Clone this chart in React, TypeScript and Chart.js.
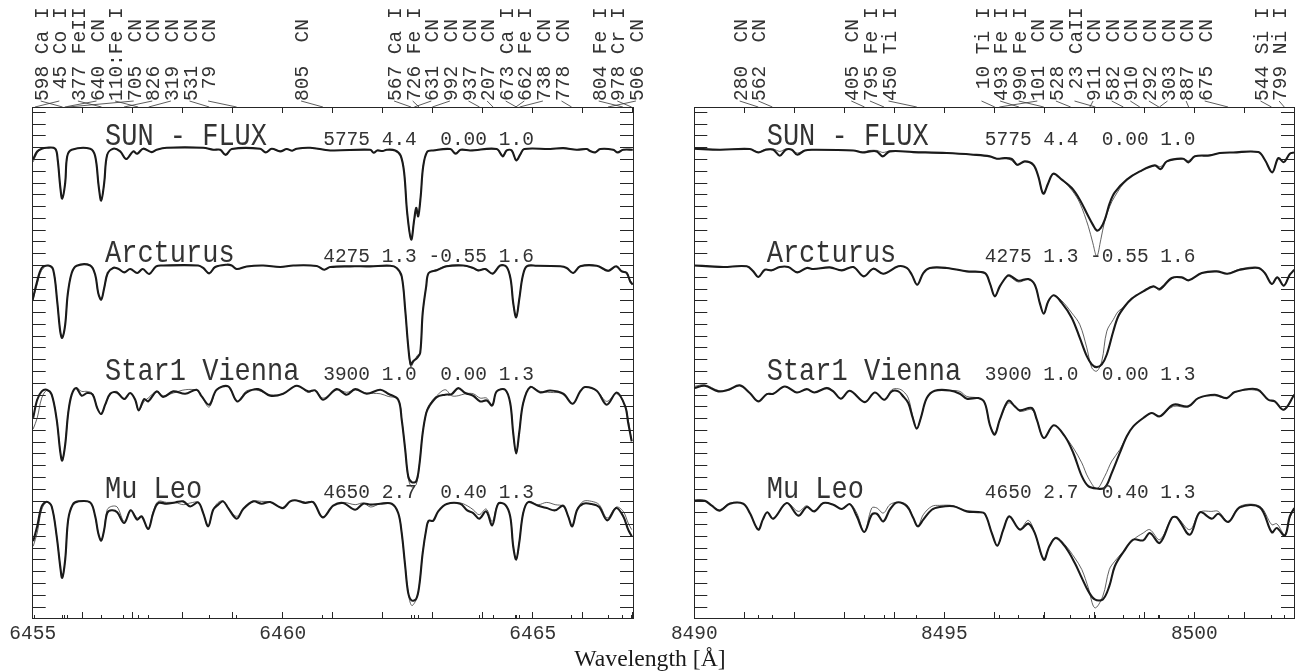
import React, { useEffect, useRef } from "react";
import { Chart, registerables } from "chart.js";

Chart.register(...registerables);

const INK = "#333333";
const MONO = '"Liberation Mono"';

// ---- Left panel (6455-6467 A), normalised flux ----
const sunLeftWave = [6455.01,6455.09,6455.18,6455.28,6455.45,6455.50,6455.55,6455.59,6455.65,6455.69,6455.78,6456.15,6456.25,6456.32,6456.37,6456.43,6456.49,6456.61,6456.75,6456.87,6457.01,6457.09,6457.21,6457.38,6457.48,6457.68,6458.41,6458.61,6458.75,6458.86,6458.98,6459.55,6459.66,6459.78,6459.95,6460.08,6460.19,6460.28,6460.55,6460.95,6461.75,6461.82,6461.89,6462.0,6462.08,6462.25,6462.36,6462.43,6462.49,6462.57,6462.63,6462.67,6462.71,6462.76,6462.81,6462.89,6463.01,6463.35,6463.46,6463.56,6463.75,6464.28,6464.40,6464.48,6464.58,6464.67,6464.75,6464.83,6465.35,6465.61,6465.88,6466.08,6466.15,6466.25,6466.35,6466.61,6466.70,6466.81,6467.0];
const sunLeftObs = [.904,.969,.992,1.0,.992,.898,.672,.568,.701,.927,.983,.992,.927,.672,.551,.701,.941,.992,.969,.904,.969,.949,.992,.963,.983,1.0,1.0,.983,.983,.938,.989,.992,.960,.992,.969,.989,.975,.992,1.0,.977,.983,.958,.977,.972,.983,.977,.932,.785,.446,.220,.390,.489,.418,.588,.842,.966,.977,.989,.949,.983,.977,.989,.927,.977,.977,.893,.941,.989,.989,.997,.983,.989,.972,.960,.989,.983,.960,.983,.983];
const sunLeftModel = [.880,.955,.992,1.0,.992,.898,.672,.568,.701,.927,.983,.992,.927,.672,.551,.701,.941,.992,.969,.904,.969,.949,.992,.963,.983,1.0,1.0,.983,.983,.948,.989,.992,.965,.992,.969,.989,.975,.992,1.0,.977,.983,.958,.977,.972,.983,.977,.932,.785,.446,.220,.380,.445,.430,.588,.842,.966,.977,.989,.955,.983,.977,.989,.937,.977,.977,.893,.941,.989,.989,.997,.983,.989,.972,.965,.989,.983,.965,.983,.983];

const arcLeftWave = [6455.0,6455.08,6455.18,6455.31,6455.41,6455.49,6455.55,6455.59,6455.65,6455.70,6455.78,6455.88,6456.15,6456.25,6456.31,6456.37,6456.43,6456.50,6456.61,6456.71,6456.83,6456.95,6457.09,6457.20,6457.33,6457.47,6457.61,6458.31,6458.41,6458.53,6458.65,6458.88,6458.98,6459.08,6459.28,6459.61,6459.95,6460.21,6460.68,6460.83,6460.95,6461.35,6461.75,6462.15,6462.28,6462.38,6462.45,6462.51,6462.56,6462.61,6462.69,6462.75,6462.80,6462.87,6462.92,6463.08,6463.28,6463.61,6463.81,6463.91,6464.05,6464.20,6464.35,6464.48,6464.56,6464.61,6464.67,6464.73,6464.80,6464.88,6465.08,6465.55,6465.68,6465.81,6465.95,6466.28,6466.51,6466.67,6466.78,6466.88,6466.95,6467.0];
const arcLeftObs = [.71,.851,.979,1.0,.964,.696,.442,.385,.498,.753,.936,.998,1.0,.922,.767,.710,.809,.936,.979,.973,.942,.970,.936,.970,.928,.993,1.0,1.0,.979,.933,.987,1.007,1.0,.970,.992,1.0,.987,1.0,.996,.964,.987,.993,.993,.998,.979,.908,.625,.315,.159,.188,.216,.258,.597,.823,.936,.959,.993,1.0,.979,.959,.970,.931,1.0,.987,.880,.682,.560,.710,.908,.993,.998,.993,.979,.936,.993,.998,.956,.993,.950,.936,.865,.837];
const arcLeftModel = [.70,.825,.960,1.0,.964,.696,.442,.385,.498,.753,.936,.998,1.0,.922,.767,.710,.809,.925,.985,.973,.942,.970,.936,.970,.928,.993,1.0,1.0,.979,.933,.987,1.007,1.0,.970,.992,1.0,.987,1.0,.996,.964,.987,.993,.993,.998,.979,.908,.625,.315,.139,.173,.235,.258,.597,.823,.936,.965,.998,1.0,.975,.955,.975,.931,1.0,.987,.880,.682,.560,.710,.908,.993,.998,.993,.979,.936,.993,.998,.950,.993,.955,.941,.875,.845];

const starLeftWave = [6455.01,6455.09,6455.18,6455.28,6455.38,6455.48,6455.55,6455.59,6455.65,6455.71,6455.78,6455.87,6455.98,6456.09,6456.20,6456.29,6456.37,6456.45,6456.55,6456.68,6456.83,6456.95,6457.05,6457.12,6457.23,6457.31,6457.48,6457.61,6457.81,6458.05,6458.28,6458.38,6458.53,6458.68,6458.91,6459.09,6459.28,6459.51,6459.75,6460.01,6460.28,6460.51,6460.65,6460.81,6461.08,6461.28,6461.45,6461.68,6461.95,6462.11,6462.31,6462.38,6462.45,6462.51,6462.58,6462.67,6462.73,6462.80,6462.87,6462.93,6463.08,6463.25,6463.38,6463.51,6463.65,6463.81,6463.95,6464.08,6464.19,6464.28,6464.45,6464.55,6464.61,6464.67,6464.73,6464.81,6464.95,6465.15,6465.35,6465.61,6465.80,6465.95,6466.05,6466.28,6466.48,6466.68,6466.85,6466.91,6466.98];
const starLeftObs = [.756,.910,.981,.995,.953,.741,.472,.393,.529,.797,.953,1.009,.944,.967,.953,.840,.789,.868,.961,.972,.916,.967,.910,.820,.916,.896,.981,.933,.981,.961,.995,.938,.868,.995,1.023,.896,.972,1.0,.944,.961,1.029,.981,.989,.910,1.0,.953,1.0,.961,.995,.961,.910,.741,.487,.261,.210,.218,.345,.628,.797,.854,.933,.953,.958,1.009,.967,.944,.896,.904,.862,.981,.995,.882,.628,.453,.628,.882,1.018,.972,.989,.961,.876,.981,1.018,.986,.868,.972,.854,.713,.557];
const starLeftModel = [.662,.755,.924,.989,.953,.741,.472,.393,.529,.797,.953,1.009,.981,.981,.961,.840,.789,.868,.953,.981,.916,.967,.910,.820,.896,.924,.981,.944,.967,.995,.989,.938,.848,.995,1.023,.896,.986,.989,.953,.961,1.029,.972,.989,.924,.995,.973,.995,.967,.961,.938,.916,.741,.487,.247,.168,.190,.345,.628,.797,.868,.944,.995,.944,.944,.961,.961,.924,.924,.862,.981,.995,.882,.628,.453,.628,.882,1.018,.981,.972,.961,.876,.981,1.018,.986,.896,.961,.854,.741,.557];

const muLeftWave = [6455.01,6455.09,6455.18,6455.28,6455.38,6455.48,6455.55,6455.59,6455.65,6455.71,6455.80,6455.91,6456.15,6456.25,6456.31,6456.37,6456.43,6456.49,6456.58,6456.69,6456.83,6456.96,6457.09,6457.18,6457.31,6457.41,6457.51,6457.68,6457.85,6458.01,6458.15,6458.31,6458.41,6458.51,6458.61,6458.71,6458.81,6458.91,6459.08,6459.21,6459.41,6459.58,6459.75,6460.0,6460.15,6460.28,6460.45,6460.61,6460.80,6461.01,6461.21,6461.45,6461.61,6461.76,6461.95,6462.18,6462.31,6462.38,6462.45,6462.51,6462.58,6462.67,6462.73,6462.80,6462.87,6462.92,6463.01,6463.11,6463.28,6463.55,6463.69,6463.81,6463.93,6464.07,6464.19,6464.31,6464.45,6464.55,6464.61,6464.67,6464.73,6464.81,6464.91,6465.11,6465.28,6465.45,6465.61,6465.71,6465.79,6465.89,6466.01,6466.18,6466.33,6466.49,6466.67,6466.81,6466.91,6466.98];
const muLeftObs = [.658,.785,.954,.994,.954,.700,.446,.347,.502,.842,.969,.997,.988,.870,.729,.664,.757,.898,.921,.904,.813,.921,.842,.870,.762,.898,.983,.977,.988,.997,.954,.988,.898,.785,.926,.969,.997,.940,.850,.932,.997,.977,.991,.940,.997,1.005,.983,.991,.861,.960,.983,.926,.977,.969,.977,.977,.898,.729,.446,.220,.155,.169,.277,.559,.757,.833,.833,.912,.974,.977,.921,.898,.850,.912,.794,.977,.969,.870,.616,.503,.644,.898,.991,.960,.940,.921,.960,.870,.785,.926,.977,.974,.949,.836,.940,.870,.757,.700];
const muLeftModel = [.616,.729,.926,.991,.954,.700,.446,.347,.502,.842,.969,.997,.988,.870,.729,.664,.757,.926,.955,.949,.827,.921,.856,.870,.762,.912,.997,.988,.988,.969,.983,.988,.898,.785,.926,.988,1.0,.940,.870,.932,.997,.997,.991,.940,.997,1.005,.991,.991,.861,.960,.988,.969,.983,.949,.977,.977,.898,.729,.446,.220,.113,.163,.277,.559,.757,.833,.833,.912,.974,.983,.960,.926,.884,.932,.827,.977,.969,.870,.616,.503,.644,.898,.991,.969,.988,.969,.955,.870,.785,.926,.997,.997,.969,.856,.949,.912,.813,.757];

// ---- Right panel (8490-8502 A), normalised flux ----
const sunRightWave = [8490.0,8490.51,8491.11,8491.28,8491.43,8491.58,8491.71,8491.83,8491.95,8492.06,8492.21,8492.38,8493.18,8493.37,8493.51,8493.65,8493.77,8493.91,8494.38,8495.05,8495.58,8495.91,8496.05,8496.21,8496.35,8496.46,8496.61,8496.78,8496.88,8496.98,8497.08,8497.18,8497.35,8497.55,8497.71,8497.88,8497.97,8498.05,8498.13,8498.21,8498.31,8498.41,8498.65,8498.91,8499.21,8499.33,8499.45,8499.78,8499.88,8500.01,8500.31,8500.51,8500.78,8501.28,8501.41,8501.56,8501.68,8501.79,8501.91,8502.0];
const sunRightObs = [.992,.983,.989,.960,.983,.983,.932,.983,.983,.941,.977,.983,.977,.960,.969,.969,.927,.969,.963,.955,.941,.927,.907,.912,.904,.856,.884,.856,.757,.610,.701,.780,.729,.658,.559,.418,.347,.297,.319,.390,.531,.621,.729,.799,.850,.819,.884,.907,.876,.927,.935,.955,.960,.963,.898,.791,.912,.878,.949,.960];
const sunRightModel = [.992,.983,.989,.965,.989,.989,.969,.989,.983,.955,.977,.983,.977,.965,.977,.977,.960,.972,.963,.955,.941,.927,.907,.912,.890,.850,.884,.850,.757,.610,.701,.780,.729,.640,.531,.333,.192,.079,.220,.380,.503,.587,.729,.799,.850,.840,.884,.907,.890,.927,.935,.955,.960,.963,.898,.791,.912,.878,.949,.960];

const arcRightWave = [8490.0,8490.31,8490.58,8491.05,8491.18,8491.28,8491.41,8491.55,8491.71,8491.88,8492.06,8492.25,8492.38,8492.71,8492.95,8493.18,8493.39,8493.58,8493.78,8494.08,8494.25,8494.35,8494.46,8494.58,8494.71,8495.05,8495.45,8495.81,8495.91,8496.01,8496.11,8496.25,8496.31,8496.48,8496.68,8496.81,8496.91,8496.99,8497.08,8497.19,8497.35,8497.55,8497.71,8497.85,8497.95,8498.05,8498.15,8498.25,8498.38,8498.48,8498.61,8498.75,8498.98,8499.18,8499.31,8499.55,8499.75,8499.89,8500.15,8500.45,8500.66,8500.91,8501.28,8501.41,8501.55,8501.66,8501.79,8501.91,8502.0];
const arcRightObs = [1.0,.993,.987,.993,.950,.902,.964,.959,.987,.987,.942,.979,.970,.984,.959,.987,.908,.973,.930,.993,.979,.922,.837,.936,.979,.979,.950,.936,.851,.738,.823,.908,.916,.871,.885,.837,.681,.591,.696,.747,.682,.555,.385,.230,.160,.137,.160,.244,.442,.569,.654,.719,.781,.823,.801,.894,.899,.874,.936,.950,.930,.964,.979,.936,.843,.899,.829,.922,.964];
const arcRightModel = [1.0,.993,.987,.993,.950,.902,.964,.959,.987,.987,.942,.979,.970,.984,.959,.987,.908,.973,.930,.993,.979,.922,.837,.936,.979,.979,.950,.936,.851,.738,.823,.908,.905,.860,.880,.837,.681,.591,.696,.747,.700,.597,.498,.301,.131,.103,.188,.442,.541,.611,.654,.719,.781,.823,.790,.890,.899,.874,.936,.950,.930,.970,.985,.936,.843,.899,.829,.922,.964];

const starRightWave = [8490.0,8490.21,8490.48,8490.68,8490.91,8491.11,8491.28,8491.45,8491.58,8491.81,8492.05,8492.25,8492.40,8492.65,8492.78,8492.93,8493.11,8493.41,8493.61,8493.80,8493.95,8494.08,8494.18,8494.28,8494.37,8494.45,8494.53,8494.65,8494.81,8495.11,8495.31,8495.45,8495.68,8495.81,8495.91,8496.01,8496.11,8496.28,8496.41,8496.51,8496.75,8496.85,8496.99,8497.19,8497.41,8497.58,8497.75,8497.88,8498.05,8498.21,8498.35,8498.51,8498.65,8498.78,8498.98,8499.15,8499.31,8499.58,8499.88,8500.08,8500.41,8500.65,8500.81,8501.25,8501.48,8501.61,8501.79,8502.0];
const starRightObs = [1.009,1.029,.981,.995,1.032,.967,.896,.958,.961,1.023,.972,1.0,.972,1.009,.981,.919,.986,.890,.972,.910,.981,.981,.938,.882,.755,.665,.755,.924,.986,.989,.961,.919,.924,.882,.698,.614,.741,.902,.854,.820,.840,.741,.585,.693,.600,.458,.261,.176,.156,.162,.289,.458,.600,.684,.755,.797,.769,.868,.854,.924,.953,.924,.975,1.0,.910,.896,.825,.953];
const starRightModel = [1.023,1.037,.989,.989,1.032,.967,.896,.958,.961,1.023,.972,1.0,.972,1.015,.981,.919,.986,.890,.972,.910,.995,1.003,.981,.924,.769,.665,.755,.924,.986,.989,.981,.938,.924,.882,.698,.628,.741,.882,.854,.811,.825,.741,.585,.693,.600,.501,.374,.247,.156,.261,.389,.486,.600,.684,.755,.797,.769,.854,.848,.924,.944,.924,.975,.989,.910,.896,.825,.953];

const muRightWave = [8490.0,8490.21,8490.35,8490.51,8490.71,8490.98,8491.11,8491.28,8491.37,8491.46,8491.58,8491.85,8492.08,8492.25,8492.40,8492.58,8492.78,8492.95,8493.11,8493.25,8493.40,8493.55,8493.65,8493.78,8493.91,8494.05,8494.25,8494.38,8494.47,8494.58,8494.75,8494.91,8495.18,8495.45,8495.68,8495.81,8495.95,8496.06,8496.18,8496.30,8496.51,8496.68,8496.81,8496.99,8497.10,8497.23,8497.41,8497.61,8497.75,8497.88,8498.01,8498.17,8498.30,8498.41,8498.58,8498.78,8498.98,8499.11,8499.31,8499.55,8499.65,8499.91,8500.11,8500.35,8500.48,8500.68,8500.91,8501.31,8501.55,8501.65,8501.81,8501.91,8502.0];
const muRightObs = [1.005,1.003,.960,.918,.977,.977,.898,.757,.842,.904,.850,.983,.876,.949,.912,.983,.969,.932,.974,.870,.737,.884,.892,.827,.926,.988,.955,.856,.785,.842,.926,.949,.955,.912,.906,.892,.728,.621,.757,.870,.757,.808,.728,.502,.614,.686,.616,.474,.347,.235,.164,.164,.277,.446,.565,.672,.666,.728,.644,.856,.861,.714,.904,.850,.892,.822,.946,.946,.734,.771,.706,.870,.940];
const muRightModel = [.997,1.003,.960,.926,.983,.977,.898,.757,.842,.904,.850,.983,.912,.960,.912,.983,.969,.932,.974,.898,.737,.941,.941,.898,.969,.988,.969,.856,.785,.884,.955,.963,.960,.912,.906,.892,.728,.621,.757,.870,.762,.836,.728,.502,.614,.692,.630,.516,.418,.263,.093,.192,.418,.489,.573,.672,.729,.757,.672,.856,.864,.757,.904,.912,.912,.827,.955,.955,.799,.807,.714,.856,.940];

// ---- Spectrum stacking and annotations ----
const stackOffsets = [2.9, 1.9, 0.85, -0.1];
const starNames = ["SUN - FLUX", "Arcturus", "Star1 Vienna", "Mu Leo"];
const starParams = ["5775 4.4  0.00 1.0", "4275 1.3 -0.55 1.6", "3900 1.0  0.00 1.3", "4650 2.7  0.40 1.3"];
const nameLevels = [3.92, 2.928, 1.924, 0.928];

const leftLineWaves = [6455.598,6455.045,6456.377,6455.640,6457.110,6455.705,6456.826,6457.319,6458.531,6459.079,6460.805,6462.567,6462.726,6462.631,6462.992,6463.937,6464.207,6464.673,6464.662,6464.738,6465.778,6466.804,6466.978,6466.506];
const leftLineLabels = ["598 Ca I"," 45 Co I","377 FeII","640  CN ","110:Fe I","705  CN ","826  CN ","319  CN ","531  CN "," 79  CN ","805  CN ","567 Ca I","726 Fe I","631  CN ","992  CN ","937  CN ","207  CN ","673 Ca I","662 Fe I","738  CN ","778  CN ","804 Fe I","978 Cr I","506  CN "];
const leftLineSlots = [0,1,2,3,4,5,6,7,8,9,14,19,20,21,22,23,24,25,26,27,28,30,31,32];

const rightLineWaves = [8491.280,8491.562,8493.405,8493.795,8494.450,8496.010,8496.493,8496.990,8496.101,8497.528,8498.023,8497.911,8498.582,8498.910,8499.292,8499.303,8499.887,8500.675,8501.544,8501.799];
const rightLineLabels = ["280  CN ","562  CN ","405  CN ","795 Fe I","450 Ti I"," 10 Ti I","493 Fe I","990 Fe I","101  CN ","528  CN "," 23 CaII","911  CN ","582  CN ","910  CN ","292  CN ","303  CN ","887  CN ","675  CN ","544 Si I","799 Ni I"];
const rightLineSlots = [0,1,6,7,8,13,14,15,16,17,18,19,20,21,22,23,24,25,28,29];

const fluxTicks = Array.from({ length: 43 }, (_, i) => i / 10);
const fluxMin = -0.0934;
const fluxMax = 4.246;

const leftPanel = {
  left: 0, width: 660,
  pad: { left: 32.7, right: 27, top: 107, bottom: 8 },
  xMin: 6455, xMax: 6467.006,
  waves: [sunLeftWave, arcLeftWave, starLeftWave, muLeftWave],
  obs: [sunLeftObs, arcLeftObs, starLeftObs, muLeftObs],
  model: [sunLeftModel, arcLeftModel, starLeftModel, muLeftModel],
  lineWaves: leftLineWaves, lineLabels: leftLineLabels, lineSlots: leftLineSlots,
  nameWave: 6456.446, paramWave: 6460.81,
  slotStart: 47.7,
};
const rightPanel = {
  left: 664, width: 631,
  pad: { left: 30.3, right: 1, top: 107, bottom: 8 },
  xMin: 8490, xMax: 8501.994,
  waves: [sunRightWave, arcRightWave, starRightWave, muRightWave],
  obs: [sunRightObs, arcRightObs, starRightObs, muRightObs],
  model: [sunRightModel, arcRightModel, starRightModel, muRightModel],
  lineWaves: rightLineWaves, lineLabels: rightLineLabels, lineSlots: rightLineSlots,
  nameWave: 8491.448, paramWave: 8495.81,
  slotStart: 746.7 - 664,
};

function setTicks(values: number[]) {
  return (scale: any) => { scale.ticks = values.map((value) => ({ value })); };
}
function fixHeight(h: number) {
  return (scale: any) => {
    scale.height = h;
    scale.paddingLeft = 0;
    scale.paddingRight = 0;
    scale.paddingTop = 0;
    scale.paddingBottom = 0;
  };
}
function fixWidth(scale: any) {
  scale.width = 0;
  scale.paddingLeft = 0;
  scale.paddingRight = 0;
  scale.paddingTop = 0;
  scale.paddingBottom = 0;
}
function range(a: number, b: number) {
  const out: number[] = [];
  for (let v = a; v <= b; v++) out.push(v);
  return out;
}

function tallText(ctx: any, text: string, x: number, y: number, size: number, sy: number, rotate = false) {
  ctx.save();
  ctx.translate(x, y);
  if (rotate) ctx.rotate(-Math.PI / 2);
  ctx.scale(1, sy);
  ctx.font = `${size}px ${MONO}`;
  ctx.fillStyle = INK;
  ctx.textAlign = "left";
  ctx.textBaseline = "alphabetic";
  ctx.fillText(text, 0, 0);
  ctx.restore();
}

function makeChart(canvas: HTMLCanvasElement, p: typeof leftPanel) {
  const datasets: any[] = [];
  p.waves.forEach((w, i) => {
    datasets.push({
      data: w.map((x, k) => ({ x, y: p.obs[i][k] + stackOffsets[i] })),
      borderColor: "#1a1a1a", borderWidth: 2.1, order: 0, borderJoinStyle: "round",
      pointRadius: 0, fill: false, tension: 0.35,
    });
    datasets.push({
      data: w.map((x, k) => ({ x, y: p.model[i][k] + stackOffsets[i] })),
      borderColor: "#3a3a3a", borderWidth: 0.8, order: 1, borderJoinStyle: "round",
      pointRadius: 0, fill: false, tension: 0.35,
    });
  });

  const annotate = {
    id: "annotate",
    afterDraw(chart: any) {
      const { ctx, scales } = chart;
      const xs = scales.x;
      const top = chart.chartArea.top;
      p.lineLabels.forEach((label, i) => {
        const base = p.slotStart + p.lineSlots[i] * 18.6;
        tallText(ctx, label, base, 101, 19.5, 1.08, true);
        ctx.save();
        ctx.strokeStyle = INK;
        ctx.lineWidth = 0.8;
        ctx.beginPath();
        ctx.moveTo(base - 7, 101);
        ctx.lineTo(xs.getPixelForValue(p.lineWaves[i]), top);
        ctx.stroke();
        ctx.restore();
      });
      starNames.forEach((name, i) => {
        const y = scales.y.getPixelForValue(nameLevels[i]);
        tallText(ctx, name, xs.getPixelForValue(p.nameWave), y, 27, 1.16);
        tallText(ctx, starParams[i], xs.getPixelForValue(p.paramWave), y, 19.5, 1.08);
      });
    },
  };

  const baseGrid = { drawOnChartArea: false, drawTicks: true, color: "#262626", lineWidth: 1 };
  const border = { display: true, color: "#262626", width: 1 };

  return new Chart(canvas, {
    type: "line",
    data: { datasets },
    plugins: [annotate],
    options: {
      animation: false,
      responsive: false,
      devicePixelRatio: 1,
      layout: { padding: p.pad },
      plugins: { legend: { display: false }, tooltip: { enabled: false }, title: { display: false } },
      scales: {
        x: {
          type: "linear", position: "bottom", weight: 1, min: p.xMin, max: p.xMax,
          afterBuildTicks: setTicks(range(p.xMin, Math.floor(p.xMax))),
          afterFit: fixHeight(45),
          grid: { ...baseGrid, tickLength: -6 }, border,
          ticks: {
            autoSkip: false, maxRotation: 0, padding: 10, color: INK,
            font: { family: "Liberation Mono", size: 19.5 },
            callback: (v: any) => (Number(v) % 5 === 0 ? String(v) : ""),
          },
        },
        xLines: {
          type: "linear", position: "bottom", weight: 0, min: p.xMin, max: p.xMax,
          afterBuildTicks: setTicks(p.lineWaves),
          afterFit: fixHeight(0),
          grid: { ...baseGrid, tickLength: -3 }, border,
          ticks: { display: false, autoSkip: false },
        },
        xTop: {
          type: "linear", position: "top", min: p.xMin, max: p.xMax,
          afterBuildTicks: setTicks(range(p.xMin, Math.floor(p.xMax))),
          afterFit: fixHeight(0),
          grid: { ...baseGrid, tickLength: -6 }, border,
          ticks: { display: false, autoSkip: false },
        },
        y: {
          type: "linear", position: "left", min: fluxMin, max: fluxMax,
          afterBuildTicks: setTicks(fluxTicks),
          afterFit: fixWidth,
          grid: { ...baseGrid, tickLength: -13 }, border,
          ticks: { display: false, autoSkip: false },
        },
        yRight: {
          type: "linear", position: "right", min: fluxMin, max: fluxMax,
          afterBuildTicks: setTicks(fluxTicks),
          afterFit: fixWidth,
          grid: { ...baseGrid, tickLength: -13 }, border,
          ticks: { display: false, autoSkip: false },
        },
      },
    },
  } as any);
}

function Panel({ panel }: { panel: typeof leftPanel }) {
  const ref = useRef<HTMLCanvasElement>(null);
  useEffect(() => {
    const chart = makeChart(ref.current!, panel);
    return () => chart.destroy();
  }, [panel]);
  return (
    <canvas
      ref={ref}
      width={panel.width}
      height={671}
      style={{ position: "absolute", left: panel.left, top: 0, width: panel.width, height: 671 }}
    />
  );
}

export default function App() {
  return (
    <div style={{ position: "fixed", left: 0, top: 0, width: 1295, height: 671, background: "#fff", overflow: "hidden" }}>
      <Panel panel={leftPanel} />
      <Panel panel={rightPanel} />
      <div
        style={{
          position: "absolute", left: 0, width: 1300, top: 646, textAlign: "center",
          fontFamily: '"Liberation Serif", serif', fontSize: 23.7, lineHeight: "24px", color: "#1a1a1a",
        }}
      >
        Wavelength [Å]
      </div>
    </div>
  );
}
